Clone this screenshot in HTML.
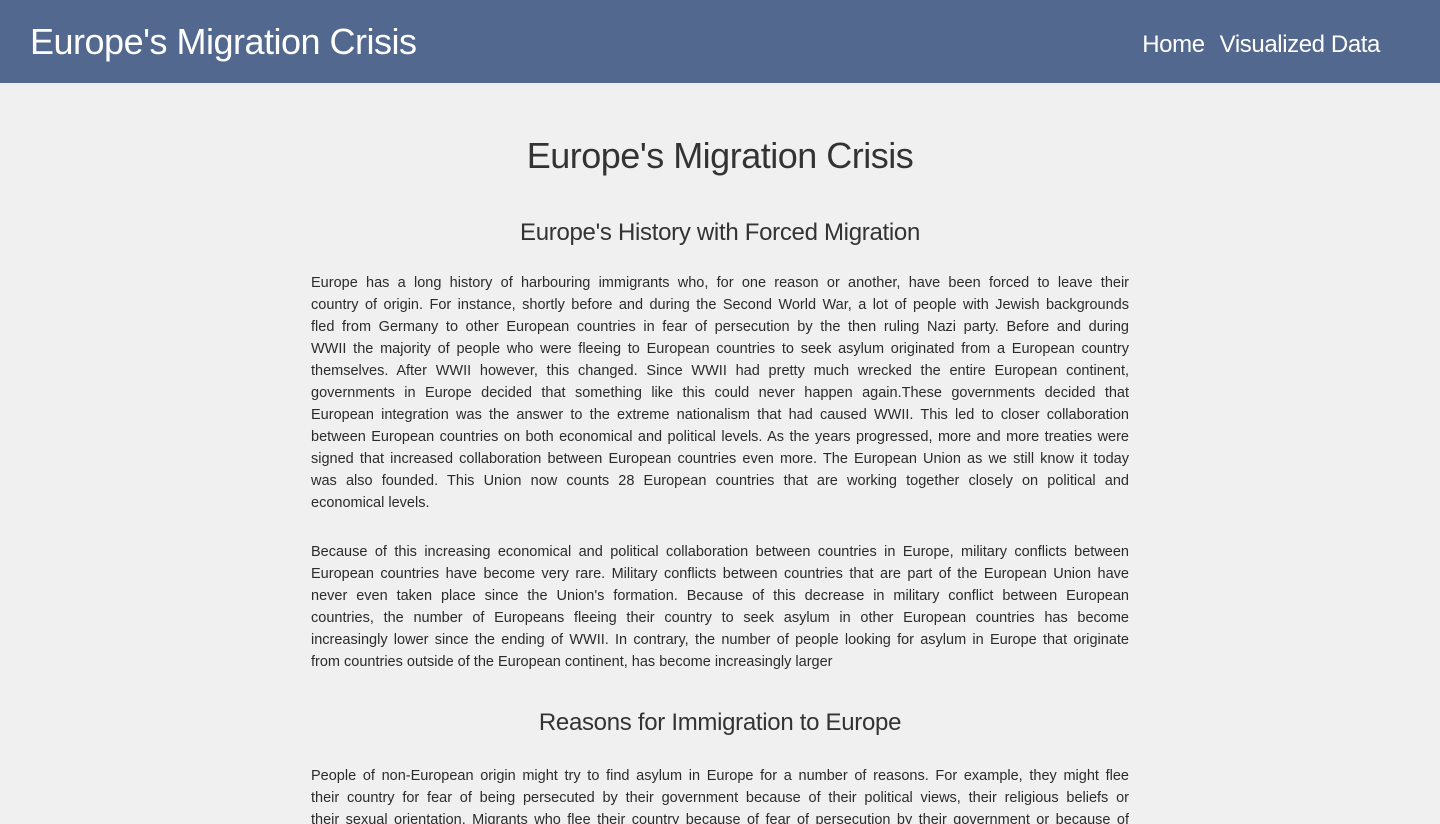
<!DOCTYPE html>
<html><head><meta charset="utf-8"><style>
html,body{margin:0;padding:0;width:1440px;height:824px;overflow:hidden;background:#f0f0f0;font-family:"Liberation Sans",sans-serif;}
header{height:83px;background:#53688f;position:relative;}
.brand{position:absolute;left:30px;top:20px;color:#fff;font-size:36px;line-height:44px;letter-spacing:-0.5px;}
nav{position:absolute;right:60px;top:30px;font-size:24px;line-height:30px;letter-spacing:-0.4px;}
nav a{color:#fff;text-decoration:none;margin-left:15px;}
main{width:818px;margin:0 auto;color:#2b2b2b;}
h1{font-weight:normal;text-align:center;font-size:36px;line-height:44px;margin:0;padding-top:51px;letter-spacing:-0.5px;color:#333;}
h2{font-weight:normal;text-align:center;font-size:24px;line-height:30px;margin:0;color:#333;letter-spacing:-0.3px;}
.p{font-size:14.5px;line-height:22px;}
.l{text-align:justify;text-align-last:justify;white-space:nowrap;overflow:hidden;}
.e{text-align:left;}
</style></head><body>
<header>
<div class="brand">Europe's Migration Crisis</div>
<nav><a href="#">Home</a><a href="#">Visualized Data</a></nav>
</header>
<main>
<h1>Europe's Migration Crisis</h1>
<h2 style="margin-top:40px">Europe's History with Forced Migration</h2>
<div class="p" style="margin-top:24px">
<div class="l">Europe has a long history of harbouring immigrants who, for one reason or another, have been forced to leave their</div>
<div class="l">country of origin. For instance, shortly before and during the Second World War, a lot of people with Jewish backgrounds</div>
<div class="l">fled from Germany to other European countries in fear of persecution by the then ruling Nazi party. Before and during</div>
<div class="l">WWII the majority of people who were fleeing to European countries to seek asylum originated from a European country</div>
<div class="l">themselves. After WWII however, this changed. Since WWII had pretty much wrecked the entire European continent,</div>
<div class="l">governments in Europe decided that something like this could never happen again.These governments decided that</div>
<div class="l">European integration was the answer to the extreme nationalism that had caused WWII. This led to closer collaboration</div>
<div class="l">between European countries on both economical and political levels. As the years progressed, more and more treaties were</div>
<div class="l">signed that increased collaboration between European countries even more. The European Union as we still know it today</div>
<div class="l">was also founded. This Union now counts 28 European countries that are working together closely on political and</div>
<div class="e">economical levels.</div>
</div>
<div class="p" style="margin-top:27px">
<div class="l">Because of this increasing economical and political collaboration between countries in Europe, military conflicts between</div>
<div class="l">European countries have become very rare. Military conflicts between countries that are part of the European Union have</div>
<div class="l">never even taken place since the Union's formation. Because of this decrease in military conflict between European</div>
<div class="l">countries, the number of Europeans fleeing their country to seek asylum in other European countries has become</div>
<div class="l">increasingly lower since the ending of WWII. In contrary, the number of people looking for asylum in Europe that originate</div>
<div class="e">from countries outside of the European continent, has become increasingly larger</div>
</div>
<h2 style="margin-top:35px">Reasons for Immigration to Europe</h2>
<div class="p" style="margin-top:27px">
<div class="l">People of non-European origin might try to find asylum in Europe for a number of reasons. For example, they might flee</div>
<div class="l">their country for fear of being persecuted by their government because of their political views, their religious beliefs or</div>
<div class="l">their sexual orientation. Migrants who flee their country because of fear of persecution by their government or because of</div>
</div>
</main>
</body></html>
